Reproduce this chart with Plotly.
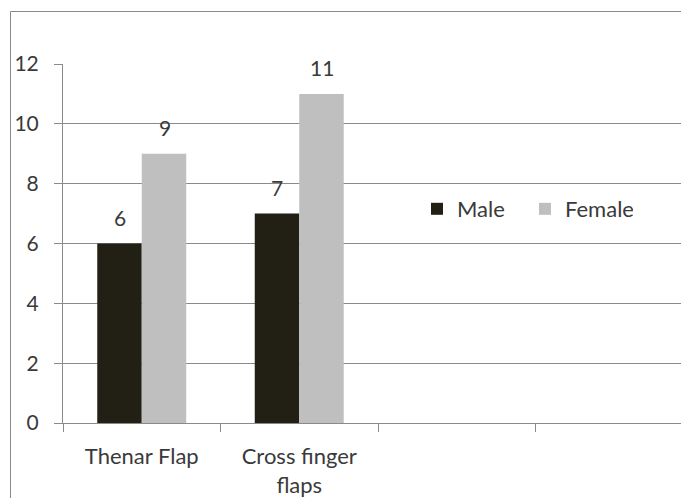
import plotly.graph_objects as go

categories = ["Thenar Flap", "Cross finger<br>flaps", " ", "  "]
bar_categories = ["Thenar Flap", "Cross finger<br>flaps"]
male = [6, 7]
female = [9, 11]
y_ticks = [0, 2, 4, 6, 8, 10, 12]

FONT = "Lato, 'Open Sans', sans-serif"
TXT = "#3a3a3a"
GRID = "#8a8a8a"
W, H = 681, 498
L, R, T, B = 63, 0, 64, 75
pw, ph = W - L - R, H - T - B
CAT_PX = 157.5

fig = go.Figure()
fig.add_trace(go.Bar(name="Male", x=bar_categories, y=male, marker_color="#221F14",
                     marker_line_width=0))
fig.add_trace(go.Bar(name="Female", x=bar_categories, y=female, marker_color="#BFBFBF",
                     marker_line_width=0))

for vals, shift in ((male, -22), (female, 23)):
    for c, v in zip(bar_categories, vals):
        fig.add_annotation(x=c, y=v, text=str(v), showarrow=False, xref="x", yref="y",
                           xshift=shift, yshift=12, yanchor="bottom",
                           font=dict(size=21, color=TXT, family=FONT))

fig.update_layout(
    width=W, height=H,
    margin=dict(l=L, r=R, t=T, b=B, pad=0),
    paper_bgcolor="white", plot_bgcolor="white",
    barmode="group", bargap=0.435, bargroupgap=0,
    font=dict(family=FONT, size=21, color=TXT),
    legend=dict(orientation="h", x=(417 - L) / pw, y=1 - (209 - T) / ph,
                xanchor="left", yanchor="middle",
                font=dict(size=22, color=TXT, family=FONT),
                itemwidth=30, entrywidth=63, entrywidthmode="pixels",
                bgcolor="rgba(0,0,0,0)"),
    showlegend=True,
    hovermode=False,
)
fig.update_xaxes(type="category", categoryorder="array", categoryarray=categories,
                 range=[-0.5, -0.5 + pw / CAT_PX],
                 tickson="boundaries", ticks="outside", ticklen=8, tickcolor=GRID,
                 showline=True, linecolor=GRID, linewidth=1,
                 showgrid=False, ticklabelstandoff=14,
                 tickfont=dict(size=22, color=TXT, family=FONT))
fig.update_yaxes(range=[0, 12], tickvals=y_ticks, ticks="outside", ticklen=8,
                 tickcolor=GRID, showline=True, linecolor=GRID, linewidth=1,
                 showgrid=True, gridcolor=GRID, gridwidth=1, zeroline=False,
                 ticklabelstandoff=11,
                 tickfont=dict(size=21, color=TXT, family=FONT))

# outer chart frame (only its left and top edges fall inside the picture)
fx = (10.5 - L) / pw
fy = 1 + (T - 11.5) / ph
fig.add_shape(type="line", xref="paper", yref="paper", x0=fx, x1=fx, y0=-0.3, y1=fy,
              line=dict(color=GRID, width=1), layer="below")
fig.add_shape(type="line", xref="paper", yref="paper", x0=fx, x1=1.0, y0=fy, y1=fy,
              line=dict(color=GRID, width=1), layer="below")

fig.write_html(
    "out.html",
    config={"displayModeBar": False, "staticPlot": True},
    post_script="document.body.style.margin='0';document.body.style.overflow='hidden';",
)
